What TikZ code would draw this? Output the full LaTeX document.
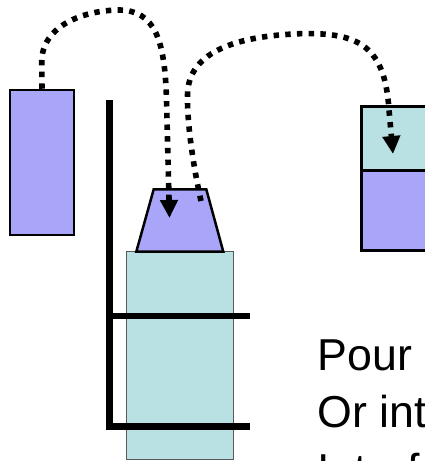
\documentclass[tikz,border=0pt]{standalone}
\usepackage{fontspec}
\setmainfont{Liberation Sans}
\usetikzlibrary{arrows.meta}
\definecolor{lav}{HTML}{A9A5F8}
\definecolor{cyn}{HTML}{B9E0E2}
\begin{document}
\begin{tikzpicture}[x=1pt,y=-1pt,
  box/.style={draw=black,line width=2.5pt},
  bar/.style={line width=6.5pt,line cap=butt},
  dots/.style={line width=5.6pt,dash pattern=on 5.4pt off 6.3pt,
    -{Triangle[length=18pt,width=17pt]}},
  txt/.style={anchor=base west,inner sep=0pt,font=\fontsize{44.7}{53}\selectfont}]
\useasboundingbox (0,0) rectangle (425,461);
% left box
\node[box,fill=lav,minimum width=64pt,minimum height=145pt,inner sep=0pt] (src) at (42,162.5) {};
% stand
\coordinate (st) at (109.5,99.5);
\coordinate (sb) at (109.5,430);
\draw[bar] (st) -- (sb);
% column
\node[draw=black!65,line width=1pt,fill=cyn,minimum width=106.6pt,minimum height=207.6pt,inner sep=0pt] (col) at (180,355.5) {};
% funnel (trapezoid)
\coordinate (ftl) at (153.7,189.3);
\coordinate (ftr) at (206.3,189.3);
\coordinate (fbr) at (223.3,251.7);
\coordinate (fbl) at (136.3,251.7);
\draw[box,fill=lav,line join=miter] (ftl) -- (ftr) -- (fbr) -- (fbl) -- cycle;
% clamps
\coordinate (c1a) at (106.3,316); \coordinate (c1b) at (250,316);
\coordinate (c2a) at (106.3,426.7); \coordinate (c2b) at (250,426.7);
\draw[bar] (c1a) -- (c1b);
\draw[bar] (c2a) -- (c2b);
% right box
\coordinate (rt1) at (361.7,106.7); \coordinate (rt2) at (440,170.7);
\coordinate (rb1) at (361.7,170.7); \coordinate (rb2) at (440,250.7);
\draw[box,fill=cyn] (rt1) rectangle (rt2);
\draw[box,fill=lav] (rb1) rectangle (rb2);
% arrows
\coordinate (a1p) at (120,10);
\coordinate (a1m) at (166.5,100);
\coordinate (a1e) at (169.5,218);
\draw[dots] (src.north) -- (41.7,62) .. controls (41.7,25) and (85,10) .. (a1p)
  .. controls (155,11) and (165,40) .. (a1m) -- (a1e);
\coordinate (a2s) at (201,201);
\coordinate (a2a) at (187.5,95);
\coordinate (a2p) at (300,33.7);
\coordinate (a2m) at (389,110);
\coordinate (a2e) at (393,154);
\draw[dots] (a2s) .. controls (192,160) and (187,120) .. (a2a)
  .. controls (188,50) and (240,36) .. (a2p)
  .. controls (360,32) and (385,47) .. (a2m) -- (a2e);
% text
\node[txt] (t1) at (317.5,370) {Pour};
\node[txt] (t2) at (317.5,427.5) {Or int};
\node[txt] (t3) at (317.5,485) {Interface};
\end{tikzpicture}
\end{document}
